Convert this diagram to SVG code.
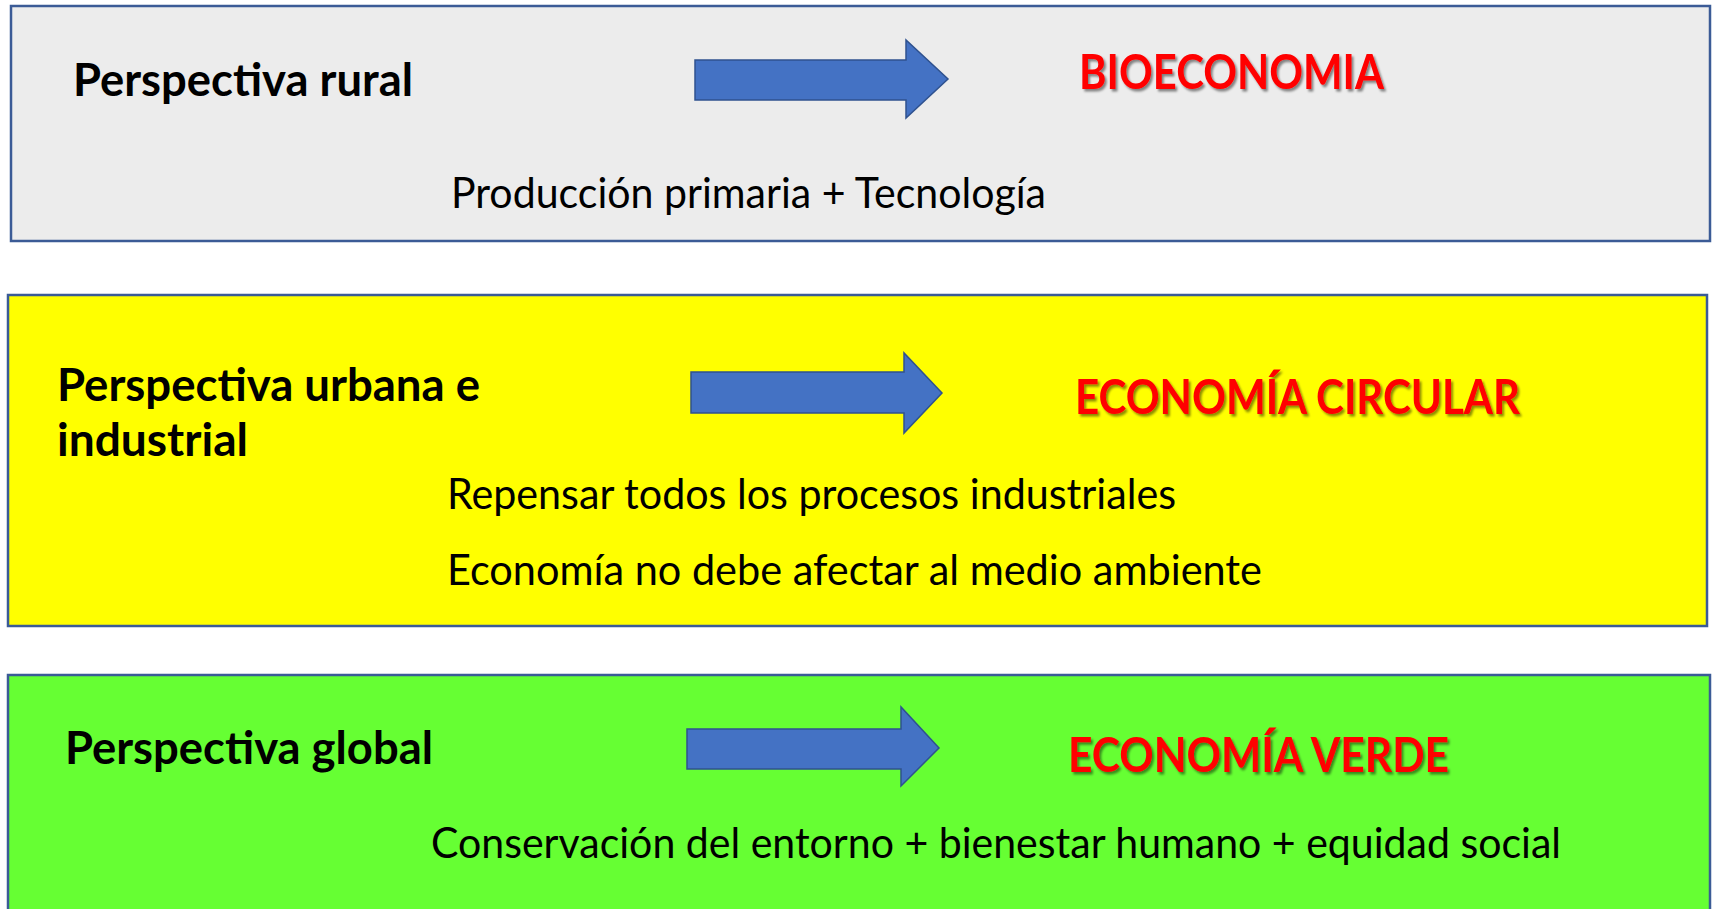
<svg xmlns="http://www.w3.org/2000/svg" width="1712" height="909" viewBox="0 0 1712 909">
<style>
.box{stroke:#3b5b96;stroke-width:2.5}
.arrow{fill:#4472c4;stroke:#2f528f;stroke-width:1.5}
.h{font-family:Lato,"Open Sans","Liberation Sans",sans-serif;font-weight:bold;font-size:45px;fill:#000}
.t{font-family:Lato,"Open Sans","Liberation Sans",sans-serif;font-size:42px;fill:#000}
.r{font-family:Lato,"Open Sans","Liberation Sans",sans-serif;font-weight:bold;font-size:47px;fill:#ff0000;filter:url(#sh)}
</style>
<defs>
<filter id="sh" x="-5%" y="-20%" width="110%" height="150%">
<feDropShadow dx="2" dy="2.5" stdDeviation="1.2" flood-color="#000" flood-opacity="0.45"/>
</filter>
</defs>
<rect width="1712" height="909" fill="#fff"/>
<g id="rural">
<rect class="box" x="11" y="6" width="1699" height="235" fill="#ececec"/>
<text class="h" x="73" y="96" textLength="340" lengthAdjust="spacingAndGlyphs">Perspectiva rural</text>
<text class="t" x="451" y="208" textLength="595" lengthAdjust="spacingAndGlyphs">Producción primaria + Tecnología</text>
</g>
<g id="bioeconomia">
<text class="r" x="1079" y="89" textLength="305" lengthAdjust="spacingAndGlyphs">BIOECONOMIA</text>
</g>
<g id="urbana">
<rect class="box" x="8" y="295" width="1699" height="331" fill="#ffff00"/>
<text class="h" x="57" y="401" textLength="423" lengthAdjust="spacingAndGlyphs">Perspectiva urbana e</text>
<text class="h" x="57" y="456" textLength="191" lengthAdjust="spacingAndGlyphs">industrial</text>
<text class="t" x="447" y="509" textLength="729" lengthAdjust="spacingAndGlyphs">Repensar todos los procesos industriales</text>
<text class="t" x="447" y="585" textLength="815" lengthAdjust="spacingAndGlyphs">Economía no debe afectar al medio ambiente</text>
</g>
<g id="circular">
<text class="r" x="1075" y="414" textLength="445" lengthAdjust="spacingAndGlyphs">ECONOMÍA CIRCULAR</text>
</g>
<g id="global">
<rect class="box" x="8" y="675" width="1702" height="240" fill="#66ff33"/>
<text class="h" x="65" y="764" textLength="368" lengthAdjust="spacingAndGlyphs">Perspectiva global</text>
<text class="t" x="431" y="858" textLength="1130" lengthAdjust="spacingAndGlyphs">Conservación del entorno + bienestar humano + equidad social</text>
</g>
<g id="verde">
<text class="r" x="1068" y="772" textLength="381" lengthAdjust="spacingAndGlyphs">ECONOMÍA VERDE</text>
</g>
<g id="connectors">
<polygon class="arrow" points="695,60 906,60 906,40 948,79 906,118 906,100 695,100"/>
<polygon class="arrow" points="691,372 904,372 904,353 942,393 904,433 904,413 691,413"/>
<polygon class="arrow" points="687,729 901,729 901,707 939,748 901,786 901,769 687,769"/>
</g>
</svg>
